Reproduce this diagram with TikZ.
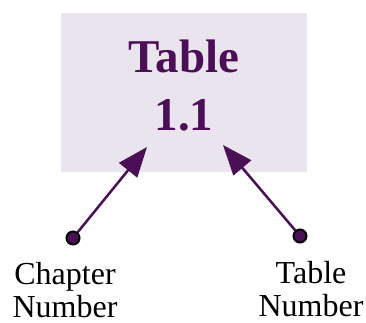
\documentclass[tikz,border=0pt]{standalone}
\usepackage{fontspec}
\setmainfont{Liberation Serif}
\usetikzlibrary{arrows.meta}
\definecolor{boxfill}{RGB}{234,228,238}
\definecolor{deep}{RGB}{75,15,85}
\begin{document}
\begin{tikzpicture}[x=1pt,y=-1pt,
  titlebox/.style={fill=boxfill,draw=none,minimum width=246pt,minimum height=159pt,inner sep=0pt},
  titletext/.style={text=deep,font=\fontsize{47}{58}\selectfont\bfseries,align=center,inner sep=0pt},
  dotnode/.style={circle,fill=deep,draw=black,line width=2pt,minimum size=13pt,inner sep=0pt},
  pointer/.style={draw=deep,line width=2.5pt,-{Triangle[length=30pt,width=23pt]}},
  labeltext/.style={font=\fontsize{32}{33}\selectfont,align=center,inner sep=0pt,anchor=north}
]
\useasboundingbox (0,0) rectangle (366,322);
\node[titlebox] (box) at (184,92.5) {};
\node[titletext,anchor=north] (title) at (184,40) {Table\\1.1};
\coordinate (tipL) at (147,147);
\coordinate (tipR) at (223,145);
\node[dotnode] (dotL) at (73,238) {};
\node[dotnode] (dotR) at (300,236) {};
\draw[pointer] (dotL) -- (tipL);
\draw[pointer] (dotR) -- (tipR);
\node[labeltext] (chap) at (65,262) {Chapter\\Number};
\node[labeltext] (tabn) at (311,261) {Table\\Number};
\end{tikzpicture}
\end{document}
